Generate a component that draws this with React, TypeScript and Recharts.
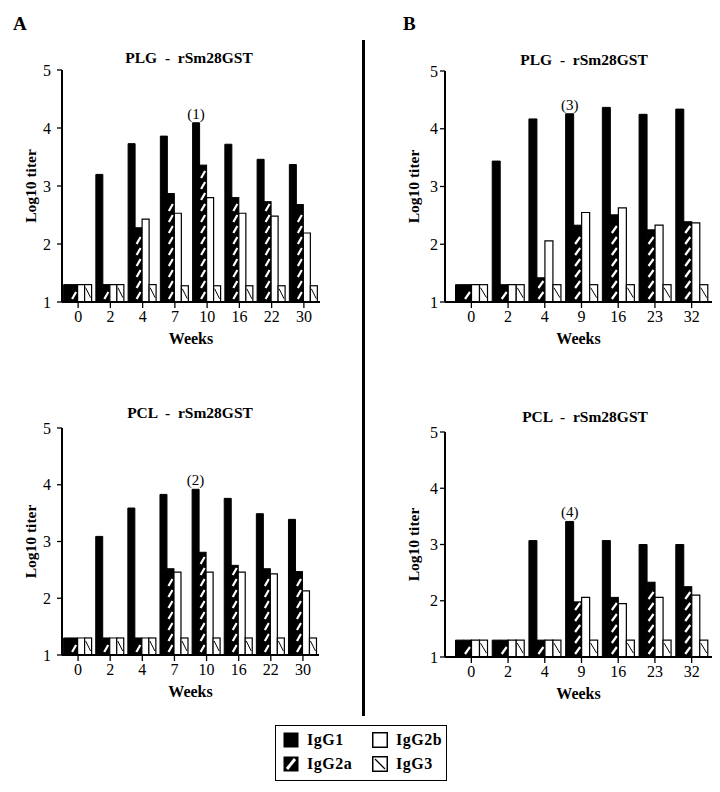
import { Bar, BarChart, LabelList, Label, XAxis, YAxis } from "recharts";

const weeksA = ["0", "2", "4", "7", "10", "16", "22", "30"];
const weeksB = ["0", "2", "4", "9", "16", "23", "32"];

// A - PLG
const plgA_g1 = [1.3, 3.2, 3.73, 3.86, 4.09, 3.72, 3.46, 3.37];
const plgA_g2a = [1.3, 1.3, 2.28, 2.87, 3.36, 2.8, 2.73, 2.68];
const plgA_g2b = [1.3, 1.3, 2.43, 2.53, 2.8, 2.53, 2.48, 2.19];
const plgA_g3 = [1.3, 1.3, 1.3, 1.28, 1.28, 1.28, 1.28, 1.28];
const plgA_notes = [null, null, null, null, "(1)", null, null, null];

// A - PCL
const pclA_g1 = [1.3, 3.09, 3.59, 3.83, 3.92, 3.76, 3.49, 3.39];
const pclA_g2a = [1.3, 1.3, 1.3, 2.52, 2.81, 2.58, 2.52, 2.47];
const pclA_g2b = [1.3, 1.3, 1.3, 2.46, 2.46, 2.46, 2.43, 2.13];
const pclA_g3 = [1.3, 1.3, 1.3, 1.3, 1.3, 1.3, 1.3, 1.3];
const pclA_notes = [null, null, null, null, "(2)", null, null, null];

// B - PLG
const plgB_g1 = [1.3, 3.44, 4.17, 4.26, 4.37, 4.25, 4.34];
const plgB_g2a = [1.3, 1.3, 1.42, 2.33, 2.51, 2.25, 2.39];
const plgB_g2b = [1.3, 1.3, 2.06, 2.55, 2.63, 2.33, 2.37];
const plgB_g3 = [1.3, 1.3, 1.3, 1.3, 1.3, 1.3, 1.3];
const plgB_notes = [null, null, null, "(3)", null, null, null];

// B - PCL
const pclB_g1 = [1.3, 1.3, 3.07, 3.41, 3.07, 3.0, 3.0];
const pclB_g2a = [1.3, 1.3, 1.3, 1.98, 2.06, 2.33, 2.25];
const pclB_g2b = [1.3, 1.3, 1.3, 2.06, 1.95, 2.06, 2.1];
const pclB_g3 = [1.3, 1.3, 1.3, 1.3, 1.3, 1.3, 1.3];
const pclB_notes = [null, null, null, "(4)", null, null, null];

const yTicks = [1, 2, 3, 4, 5];

const SERIF = "'Liberation Serif', 'Times New Roman', serif";

function buildRows(weeks, g1, g2a, g2b, g3, notes) {
  return weeks.map((week, i) => ({
    week,
    IgG1: g1[i],
    IgG2a: g2a[i],
    IgG2b: g2b[i],
    IgG3: g3[i],
    note: notes[i],
  }));
}

// black bar with white "/" dashes
function StripedBar(props) {
  const { x, y, width, height } = props;
  if (!height || height <= 0) return null;
  const lines = [];
  for (let yb = y + height - 3, i = 0; yb - 7 >= y + 1; yb -= 11, i++) {
    lines.push(
      <line key={i} x1={x + 1.5} y1={yb} x2={x + width - 1.5} y2={yb - 7} stroke="#fff" strokeWidth={2.2} />
    );
  }
  return (
    <g>
      <rect x={x} y={y} width={width} height={height} fill="#000" stroke="#000" strokeWidth={1} />
      {lines}
    </g>
  );
}

// white bar with thin "\" line
function BackslashBar(props) {
  const { x, y, width, height } = props;
  if (!height || height <= 0) return null;
  const lines = [];
  for (let yt = y + 3, i = 0; yt + 10 <= y + height; yt += 14, i++) {
    lines.push(
      <line key={i} x1={x + 1} y1={yt} x2={x + width - 1} y2={yt + 10} stroke="#000" strokeWidth={1} />
    );
  }
  return (
    <g>
      <rect x={x} y={y} width={width} height={height} fill="#fff" stroke="#000" strokeWidth={1.2} />
      {lines}
    </g>
  );
}

function Panel({ rows, title, plot, titleX, titleY, padL, padR, gap, yTickMargin }) {
  const [l, t, r, b] = plot;
  const width = r - l + 62 + 6;
  const height = b - t + 30 + 52;
  return (
    <>
      <div
        style={{
          position: "absolute",
          left: titleX,
          top: titleY,
          transform: "translate(-50%, -50%)",
          whiteSpace: "pre",
          fontFamily: SERIF,
          fontWeight: "bold",
          fontSize: 15.5,
        }}
      >
        {title}
      </div>
      <div style={{ position: "absolute", left: l - 62, top: t - 30 }}>
        <BarChart
          width={width}
          height={height}
          data={rows}
          margin={{ top: 30, right: 6, left: 22, bottom: 6 }}
          barGap={0}
          barCategoryGap={gap}
        >
          <XAxis
            dataKey="week"
            height={46}
            padding={{ left: padL, right: padR }}
            axisLine={{ stroke: "#000", strokeWidth: 2 }}
            tickLine={{ stroke: "#000", strokeWidth: 1.3 }}
            tickSize={6}
            tickMargin={3}
            interval={0}
            tick={{ fill: "#000", fontSize: 16, fontFamily: SERIF }}
          >
            <Label
              value="Weeks"
              position="insideBottom"
              offset={4}
              fill="#000"
              fontSize={16}
              fontWeight="bold"
              fontFamily={SERIF}
            />
          </XAxis>
          <YAxis
            width={40}
            domain={[1, 5]}
            ticks={yTicks}
            interval={0}
            axisLine={{ stroke: "#000", strokeWidth: 2 }}
            tickLine={{ stroke: "#000", strokeWidth: 1.3 }}
            tickSize={5}
            tickMargin={yTickMargin}
            tick={{ fill: "#000", fontSize: 16, fontFamily: SERIF }}
          >
            <Label
              value="Log10  titer"
              angle={-90}
              position="insideLeft"
              offset={8}
              fill="#000"
              fontSize={15.5}
              fontWeight="bold"
              fontFamily={SERIF}
              style={{ textAnchor: "middle", whiteSpace: "pre" }}
            />
          </YAxis>
          <Bar dataKey="IgG1" fill="#000" stroke="#000" isAnimationActive={false}>
            <LabelList dataKey="note" position="top" offset={4} fill="#000" fontSize={15} fontFamily={SERIF} />
          </Bar>
          <Bar dataKey="IgG2a" shape={StripedBar} isAnimationActive={false} />
          <Bar dataKey="IgG2b" fill="#fff" stroke="#000" strokeWidth={1.2} isAnimationActive={false} />
          <Bar dataKey="IgG3" shape={BackslashBar} isAnimationActive={false} />
        </BarChart>
      </div>
    </>
  );
}

function Swatch({ kind }) {
  return (
    <svg width={16} height={16} style={{ display: "block" }}>
      {kind === "IgG1" && <rect x={0.5} y={0.5} width={15} height={15} fill="#000" />}
      {kind === "IgG2b" && <rect x={0.75} y={0.75} width={14.5} height={14.5} fill="#fff" stroke="#000" strokeWidth={1.5} />}
      {kind === "IgG2a" && (
        <g>
          <rect x={0.5} y={0.5} width={15} height={15} fill="#000" />
          <line x1={4} y1={13} x2={12} y2={3} stroke="#fff" strokeWidth={3} />
        </g>
      )}
      {kind === "IgG3" && (
        <g>
          <rect x={0.75} y={0.75} width={14.5} height={14.5} fill="#fff" stroke="#000" strokeWidth={1.5} />
          <line x1={3} y1={3} x2={13} y2={13} stroke="#000" strokeWidth={1.3} />
        </g>
      )}
    </svg>
  );
}

function LegendItem({ kind, left, top }) {
  return (
    <div style={{ position: "absolute", left, top, display: "flex", alignItems: "center", gap: 8 }}>
      <Swatch kind={kind} />
      <span style={{ fontFamily: SERIF, fontWeight: "bold", fontSize: 16, letterSpacing: 0.5 }}>{kind}</span>
    </div>
  );
}

export default function App() {
  const rowsPlgA = buildRows(weeksA, plgA_g1, plgA_g2a, plgA_g2b, plgA_g3, plgA_notes);
  const rowsPclA = buildRows(weeksA, pclA_g1, pclA_g2a, pclA_g2b, pclA_g3, pclA_notes);
  const rowsPlgB = buildRows(weeksB, plgB_g1, plgB_g2a, plgB_g2b, plgB_g3, plgB_notes);
  const rowsPclB = buildRows(weeksB, pclB_g1, pclB_g2a, pclB_g2b, pclB_g3, pclB_notes);

  return (
    <div style={{ position: "absolute", left: 0, top: 0, width: 720, height: 792, background: "#fff", overflow: "hidden" }}>
      <div style={{ position: "absolute", left: 13, top: 13, fontFamily: SERIF, fontWeight: "bold", fontSize: 19 }}>A</div>
      <div style={{ position: "absolute", left: 403, top: 13, fontFamily: SERIF, fontWeight: "bold", fontSize: 19 }}>B</div>
      <div style={{ position: "absolute", left: 362, top: 40, width: 3, height: 676, background: "#000" }} />

      <Panel rows={rowsPlgA} title={"PLG  -  rSm28GST"} plot={[62, 70, 320, 302]} titleX={189} titleY={58} padL={0} padR={0} gap={1.6} yTickMargin={6} />
      <Panel rows={rowsPlgB} title={"PLG  -  rSm28GST"} plot={[445, 71, 712, 302]} titleX={584} titleY={60} padL={8} padR={2} gap={2.5} yTickMargin={2} />
      <Panel rows={rowsPclA} title={"PCL  -  rSm28GST"} plot={[62, 428, 319, 655]} titleX={190} titleY={413} padL={0} padR={0} gap={1.6} yTickMargin={6} />
      <Panel rows={rowsPclB} title={"PCL  -  rSm28GST"} plot={[445, 432, 712, 657]} titleX={585} titleY={417} padL={8} padR={2} gap={2.5} yTickMargin={2} />

      <div style={{ position: "absolute", left: 275, top: 725, width: 170, height: 54, border: "1.5px solid #000" }}>
        <LegendItem kind="IgG1" left={7} top={5} />
        <LegendItem kind="IgG2b" left={96} top={5} />
        <LegendItem kind="IgG2a" left={7} top={29} />
        <LegendItem kind="IgG3" left={96} top={29} />
      </div>
    </div>
  );
}
